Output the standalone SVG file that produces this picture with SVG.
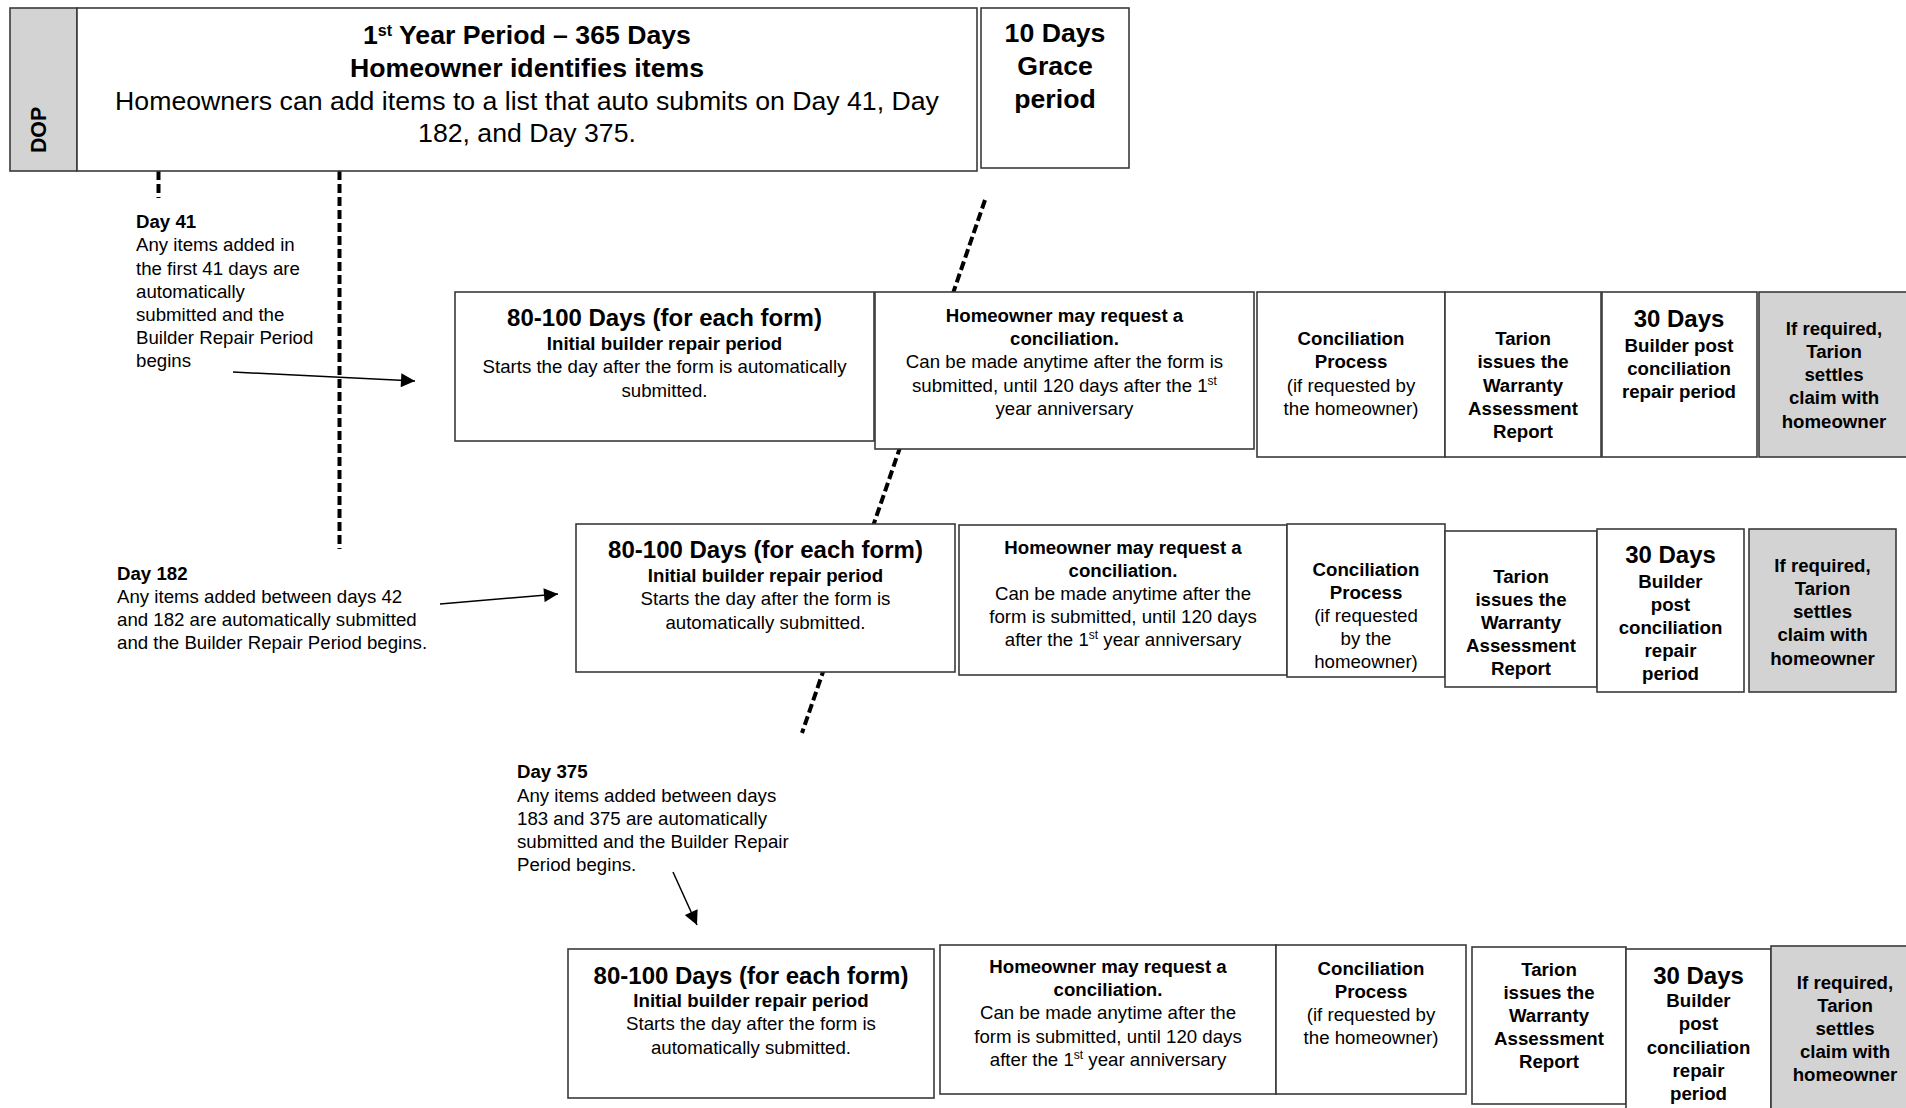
<svg xmlns="http://www.w3.org/2000/svg" width="1906" height="1108" viewBox="0 0 1906 1108">
<defs>
<style>
text{font-family:"Liberation Sans",Arial,sans-serif;fill:#000}
.c{text-anchor:middle}
.b{font-weight:bold}
.f14{font-size:18.67px}
.f18{font-size:24px}
.f20{font-size:26.67px}
.box{fill:#fff;stroke:#3a3a3a;stroke-width:1.6}
.gray{fill:#d3d3d3;stroke:#3a3a3a;stroke-width:1.6}
.dash{fill:none;stroke:#000;stroke-width:4;stroke-dasharray:9 4}
.arr{fill:none;stroke:#000;stroke-width:1.5;marker-end:url(#ah)}
</style>
<marker id="ah" viewBox="0 0 10 10" refX="10" refY="5" markerUnits="userSpaceOnUse" markerWidth="15" markerHeight="14" orient="auto">
<path d="M0,0 L10,5 L0,10 z" fill="#000"/>
</marker>
</defs>
<rect width="1906" height="1108" fill="#fff"/>

<g id="connectors">
<line class="dash" x1="158.5" y1="171" x2="158.5" y2="198"/>
<line class="dash" x1="339.5" y1="171" x2="339.5" y2="549"/>
<line class="dash" x1="985" y1="200" x2="802" y2="733"/>
<line class="arr" x1="233" y1="372" x2="415" y2="381"/>
<line class="arr" x1="440" y1="604" x2="558" y2="594"/>
<line class="arr" x1="673" y1="872" x2="697" y2="925"/>
</g>

<g id="dop">
<rect class="gray" x="10" y="8" width="67" height="163"/>
<text class="b c" font-size="21.33" transform="translate(45.5,130) rotate(-90)">DOP</text>
</g>
<g id="year1">
<rect class="box" x="77" y="8" width="900" height="163"/>
<text class="c b f20" x="527" y="44">1<tspan font-size="16" baseline-shift="super">st</tspan> Year Period – 365 Days</text>
<text class="c b f20" x="527" y="77">Homeowner identifies items</text>
<text class="c f20" x="527" y="110">Homeowners can add items to a list that auto submits on Day 41, Day</text>
<text class="c f20" x="527" y="142">182, and Day 375.</text>
</g>
<g id="grace">
<rect class="box" x="981" y="8" width="148" height="160"/>
<text class="c b f20" x="1055" y="42">10 Days</text>
<text class="c b f20" x="1055" y="75">Grace</text>
<text class="c b f20" x="1055" y="108">period</text>
</g>

<g id="day41">
<text class="b f14" x="136" y="228">Day 41</text>
<text class="f14" x="136" y="251">Any items added in</text>
<text class="f14" x="136" y="274.5">the first 41 days are</text>
<text class="f14" x="136" y="297.5">automatically</text>
<text class="f14" x="136" y="321">submitted and the</text>
<text class="f14" x="136" y="344">Builder Repair Period</text>
<text class="f14" x="136" y="367">begins</text>
</g>
<g id="day182">
<text class="b f14" x="117" y="579.5">Day 182</text>
<text class="f14" x="117" y="602.5">Any items added between days 42</text>
<text class="f14" x="117" y="625.5">and 182 are automatically submitted</text>
<text class="f14" x="117" y="648.5">and the Builder Repair Period begins.</text>
</g>
<g id="day375">
<text class="b f14" x="517" y="778">Day 375</text>
<text class="f14" x="517" y="801.5">Any items added between days</text>
<text class="f14" x="517" y="825">183 and 375 are automatically</text>
<text class="f14" x="517" y="848">submitted and the Builder Repair</text>
<text class="f14" x="517" y="871">Period begins.</text>
</g>

<!-- Row 1 -->
<g id="r1-repair">
<rect class="box" x="455" y="292" width="419" height="149"/>
<text class="c b f18" x="664.5" y="326">80-100 Days (for each form)</text>
<text class="c b f14" x="664.5" y="350">Initial builder repair period</text>
<text class="c f14" x="664.5" y="373">Starts the day after the form is automatically</text>
<text class="c f14" x="664.5" y="397">submitted.</text>
</g>
<g id="r1-request">
<rect class="box" x="875" y="292" width="379" height="157"/>
<text class="c b f14" x="1064.5" y="321.5">Homeowner may request a</text>
<text class="c b f14" x="1064.5" y="345">conciliation.</text>
<text class="c f14" x="1064.5" y="368">Can be made anytime after the form is</text>
<text class="c f14" x="1064.5" y="391.5">submitted, until 120 days after the 1<tspan font-size="12" baseline-shift="super">st</tspan></text>
<text class="c f14" x="1064.5" y="415">year anniversary</text>
</g>
<g id="r1-process">
<rect class="box" x="1257" y="292" width="188" height="165"/>
<text class="c b f14" x="1351" y="345">Conciliation</text>
<text class="c b f14" x="1351" y="368">Process</text>
<text class="c f14" x="1351" y="391.5">(if requested by</text>
<text class="c f14" x="1351" y="415">the homeowner)</text>
</g>
<g id="r1-report">
<rect class="box" x="1445" y="292" width="156" height="165"/>
<text class="c b f14" x="1523" y="345">Tarion</text>
<text class="c b f14" x="1523" y="368">issues the</text>
<text class="c b f14" x="1523" y="391.5">Warranty</text>
<text class="c b f14" x="1523" y="415">Assessment</text>
<text class="c b f14" x="1523" y="438">Report</text>
</g>
<g id="r1-post">
<rect class="box" x="1602" y="292" width="155" height="165"/>
<text class="c b f18" x="1679" y="327">30 Days</text>
<text class="c b f14" x="1679" y="351.5">Builder post</text>
<text class="c b f14" x="1679" y="374.5">conciliation</text>
<text class="c b f14" x="1679" y="397.5">repair period</text>
</g>
<g id="r1-settle">
<rect class="gray" x="1759" y="292" width="152" height="165"/>
<text class="c b f14" x="1834" y="335">If required,</text>
<text class="c b f14" x="1834" y="358">Tarion</text>
<text class="c b f14" x="1834" y="381">settles</text>
<text class="c b f14" x="1834" y="404">claim with</text>
<text class="c b f14" x="1834" y="428">homeowner</text>
</g>

<!-- Row 2 -->
<g id="r2-repair">
<rect class="box" x="576" y="524" width="379" height="148"/>
<text class="c b f18" x="765.5" y="557.5">80-100 Days (for each form)</text>
<text class="c b f14" x="765.5" y="582">Initial builder repair period</text>
<text class="c f14" x="765.5" y="605">Starts the day after the form is</text>
<text class="c f14" x="765.5" y="628.5">automatically submitted.</text>
</g>
<g id="r2-request">
<rect class="box" x="959" y="525" width="328" height="150"/>
<text class="c b f14" x="1123" y="553.5">Homeowner may request a</text>
<text class="c b f14" x="1123" y="576.5">conciliation.</text>
<text class="c f14" x="1123" y="599.5">Can be made anytime after the</text>
<text class="c f14" x="1123" y="622.5">form is submitted, until 120 days</text>
<text class="c f14" x="1123" y="645.5">after the 1<tspan font-size="12" baseline-shift="super">st</tspan> year anniversary</text>
</g>
<g id="r2-process">
<rect class="box" x="1287" y="524" width="158" height="153"/>
<text class="c b f14" x="1366" y="575.5">Conciliation</text>
<text class="c b f14" x="1366" y="598.5">Process</text>
<text class="c f14" x="1366" y="621.5">(if requested</text>
<text class="c f14" x="1366" y="644.5">by the</text>
<text class="c f14" x="1366" y="667.5">homeowner)</text>
</g>
<g id="r2-report">
<rect class="box" x="1445" y="531" width="152" height="156"/>
<text class="c b f14" x="1521" y="582.5">Tarion</text>
<text class="c b f14" x="1521" y="605.5">issues the</text>
<text class="c b f14" x="1521" y="628.5">Warranty</text>
<text class="c b f14" x="1521" y="651.5">Assessment</text>
<text class="c b f14" x="1521" y="675">Report</text>
</g>
<g id="r2-post">
<rect class="box" x="1597" y="529" width="147" height="163"/>
<text class="c b f18" x="1670.5" y="562.5">30 Days</text>
<text class="c b f14" x="1670.5" y="587.5">Builder</text>
<text class="c b f14" x="1670.5" y="610.5">post</text>
<text class="c b f14" x="1670.5" y="633.5">conciliation</text>
<text class="c b f14" x="1670.5" y="656.5">repair</text>
<text class="c b f14" x="1670.5" y="679.5">period</text>
</g>
<g id="r2-settle">
<rect class="gray" x="1749" y="529" width="147" height="163"/>
<text class="c b f14" x="1822.5" y="571.5">If required,</text>
<text class="c b f14" x="1822.5" y="594.5">Tarion</text>
<text class="c b f14" x="1822.5" y="617.5">settles</text>
<text class="c b f14" x="1822.5" y="641">claim with</text>
<text class="c b f14" x="1822.5" y="664.5">homeowner</text>
</g>

<!-- Row 3 -->
<g id="r3-repair">
<rect class="box" x="568" y="949" width="366" height="149"/>
<text class="c b f18" x="751" y="983.5">80-100 Days (for each form)</text>
<text class="c b f14" x="751" y="1006.5">Initial builder repair period</text>
<text class="c f14" x="751" y="1030">Starts the day after the form is</text>
<text class="c f14" x="751" y="1053.5">automatically submitted.</text>
</g>
<g id="r3-request">
<rect class="box" x="940" y="945" width="336" height="149"/>
<text class="c b f14" x="1108" y="972.5">Homeowner may request a</text>
<text class="c b f14" x="1108" y="995.5">conciliation.</text>
<text class="c f14" x="1108" y="1019">Can be made anytime after the</text>
<text class="c f14" x="1108" y="1042.5">form is submitted, until 120 days</text>
<text class="c f14" x="1108" y="1065.5">after the 1<tspan font-size="12" baseline-shift="super">st</tspan> year anniversary</text>
</g>
<g id="r3-process">
<rect class="box" x="1276" y="945" width="190" height="149"/>
<text class="c b f14" x="1371" y="974.5">Conciliation</text>
<text class="c b f14" x="1371" y="997.5">Process</text>
<text class="c f14" x="1371" y="1020.5">(if requested by</text>
<text class="c f14" x="1371" y="1044">the homeowner)</text>
</g>
<g id="r3-report">
<rect class="box" x="1472" y="947" width="154" height="157"/>
<text class="c b f14" x="1549" y="975.5">Tarion</text>
<text class="c b f14" x="1549" y="998.5">issues the</text>
<text class="c b f14" x="1549" y="1021.5">Warranty</text>
<text class="c b f14" x="1549" y="1044.5">Assessment</text>
<text class="c b f14" x="1549" y="1067.5">Report</text>
</g>
<g id="r3-post">
<rect class="box" x="1626" y="949" width="145" height="165"/>
<text class="c b f18" x="1698.5" y="983.5">30 Days</text>
<text class="c b f14" x="1698.5" y="1006.5">Builder</text>
<text class="c b f14" x="1698.5" y="1030">post</text>
<text class="c b f14" x="1698.5" y="1053.5">conciliation</text>
<text class="c b f14" x="1698.5" y="1076.5">repair</text>
<text class="c b f14" x="1698.5" y="1099.5">period</text>
</g>
<g id="r3-settle">
<rect class="gray" x="1771" y="946" width="150" height="168"/>
<text class="c b f14" x="1845" y="988.5">If required,</text>
<text class="c b f14" x="1845" y="1011.5">Tarion</text>
<text class="c b f14" x="1845" y="1034.5">settles</text>
<text class="c b f14" x="1845" y="1057.5">claim with</text>
<text class="c b f14" x="1845" y="1081">homeowner</text>
</g>
</svg>
